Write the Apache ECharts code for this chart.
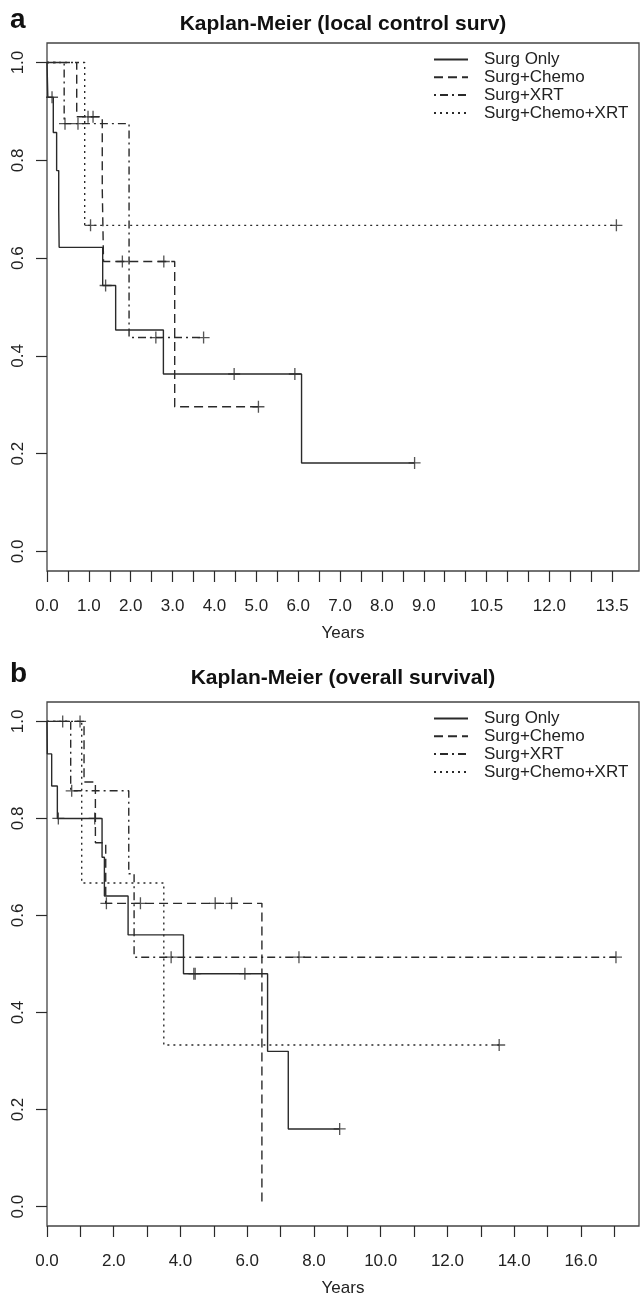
<!DOCTYPE html>
<html>
<head>
<meta charset="utf-8">
<script src="https://cdn.jsdelivr.net/npm/echarts@6/dist/echarts.min.js"></script>
<style>
html, body { margin: 0; padding: 0; background: #fff; }
#chart { width: 641px; height: 1298px; }
</style>
</head>
<body>
<div id="chart"></div>
<script>
// panel a: local control, times (years) and survival after each step
var lcOnlyT = [0, 0.02, 0.15, 0.23, 0.28, 0.29, 1.33, 1.64, 2.78, 6.08, 8.78];
var lcOnlyS = [1, 0.929, 0.857, 0.779, 0.70, 0.622, 0.544, 0.453, 0.363, 0.181, 0.181];
var lcOnlyC = [0.12, 1.40, 4.47, 5.92, 8.78];

var lcChemoT = [0, 0.71, 1.32, 1.35, 3.05, 5.05];
var lcChemoS = [1, 0.889, 0.741, 0.593, 0.296, 0.296];
var lcChemoC = [0.98, 1.10, 1.80, 2.79, 5.05];

var lcXrtT = [0, 0.41, 1.96, 3.74];
var lcXrtS = [1, 0.875, 0.4375, 0.4375];
var lcXrtC = [0.43, 0.74, 2.60, 3.74];

var lcBothT = [0, 0.90, 13.6];
var lcBothS = [1, 0.667, 0.667];
var lcBothC = [1.04, 13.6];

// panel b: overall survival
var osOnlyT = [0, 0.01, 0.14, 0.31, 1.65, 1.72, 2.43, 4.09, 6.61, 7.23, 8.77];
var osOnlyS = [1, 0.933, 0.867, 0.80, 0.72, 0.64, 0.56, 0.48, 0.32, 0.16, 0.16];
var osOnlyC = [0.34, 1.43, 4.40, 4.44, 5.93, 8.77];

var osChemoT = [0, 1.11, 1.45, 1.76, 6.44];
var osChemoS = [1, 0.875, 0.75, 0.625, 0];
var osChemoC = [0.47, 0.99, 1.78, 2.80, 5.04, 5.53];

var osXrtT = [0, 0.71, 2.45, 2.61, 17.05];
var osXrtS = [1, 0.857, 0.686, 0.514, 0.514];
var osXrtC = [0.74, 3.72, 7.55, 17.05];

var osBothT = [0, 1.04, 3.50, 13.55];
var osBothS = [1, 0.667, 0.333, 0.333];
var osBothC = [13.55];

var groupNames = ['Surg Only', 'Surg+Chemo', 'Surg+XRT', 'Surg+Chemo+XRT'];

// axis ticks and labels
var lcTicks = [0, 0.5, 1, 1.5, 2, 2.5, 3, 3.5, 4, 4.5, 5, 5.5, 6, 6.5, 7, 7.5, 8, 8.5, 9, 9.5, 10, 10.5, 11, 11.5, 12, 12.5, 13, 13.5];
var lcLabels = [0, 1, 2, 3, 4, 5, 6, 7, 8, 9, 10.5, 12, 13.5];
var osTicks = [0, 1, 2, 3, 4, 5, 6, 7, 8, 9, 10, 11, 12, 13, 14, 15, 16, 17];
var osLabels = [0, 2, 4, 6, 8, 10, 12, 14, 16];
var yTicks = [0, 0.2, 0.4, 0.6, 0.8, 1.0];

var ink = '#2a2a2a';
var font = 'Liberation Sans, Arial, sans-serif';
var dashes = ['solid', [9, 5], [2, 4, 8, 4], [2, 4]];
var crossPath = 'path://M44.5,0h11v100h-11zM0,44.5h100v11h-100z';

function zip(T, S) {
	var out = [];
	for (var i = 0; i < T.length; i++) out.push([T[i], S[i]]);
	return out;
}
// value of the step curve at time t
function stepAt(T, S, t) {
	var v = S[0];
	for (var i = 0; i < T.length; i++) {
		if (T[i] <= t) v = S[i];
	}
	return v;
}

var series = [];
function addPanel(idx, curves) {
	for (var k = 0; k < curves.length; k++) {
		var c = curves[k];
		series.push({
			name: groupNames[k],
			type: 'line',
			xAxisIndex: idx,
			yAxisIndex: idx,
			step: 'end',
			symbol: 'none',
			showSymbol: false,
			lineStyle: { color: ink, width: 1.4, type: dashes[k] },
			itemStyle: { color: ink },
			data: zip(c[0], c[1]),
			z: 2
		});
		var marks = [];
		for (var j = 0; j < c[2].length; j++) {
			marks.push([c[2][j], stepAt(c[0], c[1], c[2][j])]);
		}
		series.push({
			name: 'censor' + idx + '_' + k,
			type: 'scatter',
			xAxisIndex: idx,
			yAxisIndex: idx,
			symbol: crossPath,
			symbolSize: 12,
			itemStyle: { color: ink },
			data: marks,
			z: 3
		});
	}
}
addPanel(0, [[lcOnlyT, lcOnlyS, lcOnlyC], [lcChemoT, lcChemoS, lcChemoC], [lcXrtT, lcXrtS, lcXrtC], [lcBothT, lcBothS, lcBothC]]);
addPanel(1, [[osOnlyT, osOnlyS, osOnlyC], [osChemoT, osChemoS, osChemoC], [osXrtT, osXrtS, osXrtC], [osBothT, osBothS, osBothC]]);

function xAxis(idx, max, ticks, labels, margin, gap) {
	return {
		type: 'value',
		gridIndex: idx,
		position: 'bottom',
		min: 0,
		max: max,
		name: 'Years',
		nameLocation: 'middle',
		nameGap: gap,
		nameTextStyle: { color: '#222', fontSize: 17, fontFamily: font },
		splitLine: { show: false },
		axisLine: { show: false, onZero: false },
		axisTick: { show: true, inside: false, length: 11, customValues: ticks, lineStyle: { color: ink, width: 1.2 } },
		axisLabel: {
			customValues: labels, margin: margin, color: '#222', fontSize: 17, fontFamily: font,
			formatter: function(v) { return v.toFixed(1); }
		}
	};
}
function yAxis(idx) {
	return {
		type: 'value',
		gridIndex: idx,
		position: 'left',
		min: -0.04,
		max: 1.04,
		splitLine: { show: false },
		axisLine: { show: false, onZero: false },
		axisTick: { show: true, inside: false, length: 11, customValues: yTicks, lineStyle: { color: ink, width: 1.2 } },
		axisLabel: {
			customValues: yTicks, rotate: 90, margin: 20, color: '#222', fontSize: 17, fontFamily: font,
			formatter: function(v) { return v.toFixed(1); }
		}
	};
}
function legend(top) {
	return {
		data: groupNames,
		orient: 'vertical',
		left: 433,
		top: top,
		itemWidth: 34,
		itemHeight: 12,
		itemGap: 0.8,
		padding: 0,
		selectedMode: false,
		itemStyle: { color: 'transparent', borderWidth: 0, opacity: 0 },
		textStyle: { color: '#222', fontSize: 17, fontFamily: font, lineHeight: 17, padding: [0, 0, 0, 11] }
	};
}

var myChart = echarts.init(document.getElementById('chart'));
var option = {
	animation: false,
	backgroundColor: '#fff',
	title: [
		{ text: 'Kaplan-Meier (local control surv)', left: 343, top: 14, textAlign: 'center', padding: 0,
			textStyle: { color: '#111', fontSize: 21, fontWeight: 'bold', fontFamily: font } },
		{ text: 'Kaplan-Meier (overall survival)', left: 343, top: 668, textAlign: 'center', padding: 0,
			textStyle: { color: '#111', fontSize: 21, fontWeight: 'bold', fontFamily: font } },
		{ text: 'a', left: 10, top: 6, padding: 0,
			textStyle: { color: '#111', fontSize: 28, fontWeight: 'bold', fontFamily: font } },
		{ text: 'b', left: 10, top: 660, padding: 0,
			textStyle: { color: '#111', fontSize: 28, fontWeight: 'bold', fontFamily: font } }
	],
	legend: [legend(51), legend(710)],
	grid: [
		{ left: 47, top: 43, width: 592, height: 528, show: true, borderColor: '#444', borderWidth: 1.3 },
		{ left: 47, top: 702, width: 592, height: 528, show: true, borderColor: '#444', borderWidth: 1.3 }
	],
	xAxis: [xAxis(0, 14.14, lcTicks, lcLabels, 27, 54), xAxis(1, 17.74, osTicks, osLabels, 27, 54)],
	yAxis: [yAxis(0), yAxis(1)],
	series: series
};
myChart.setOption(option);
</script>
</body>
</html>
